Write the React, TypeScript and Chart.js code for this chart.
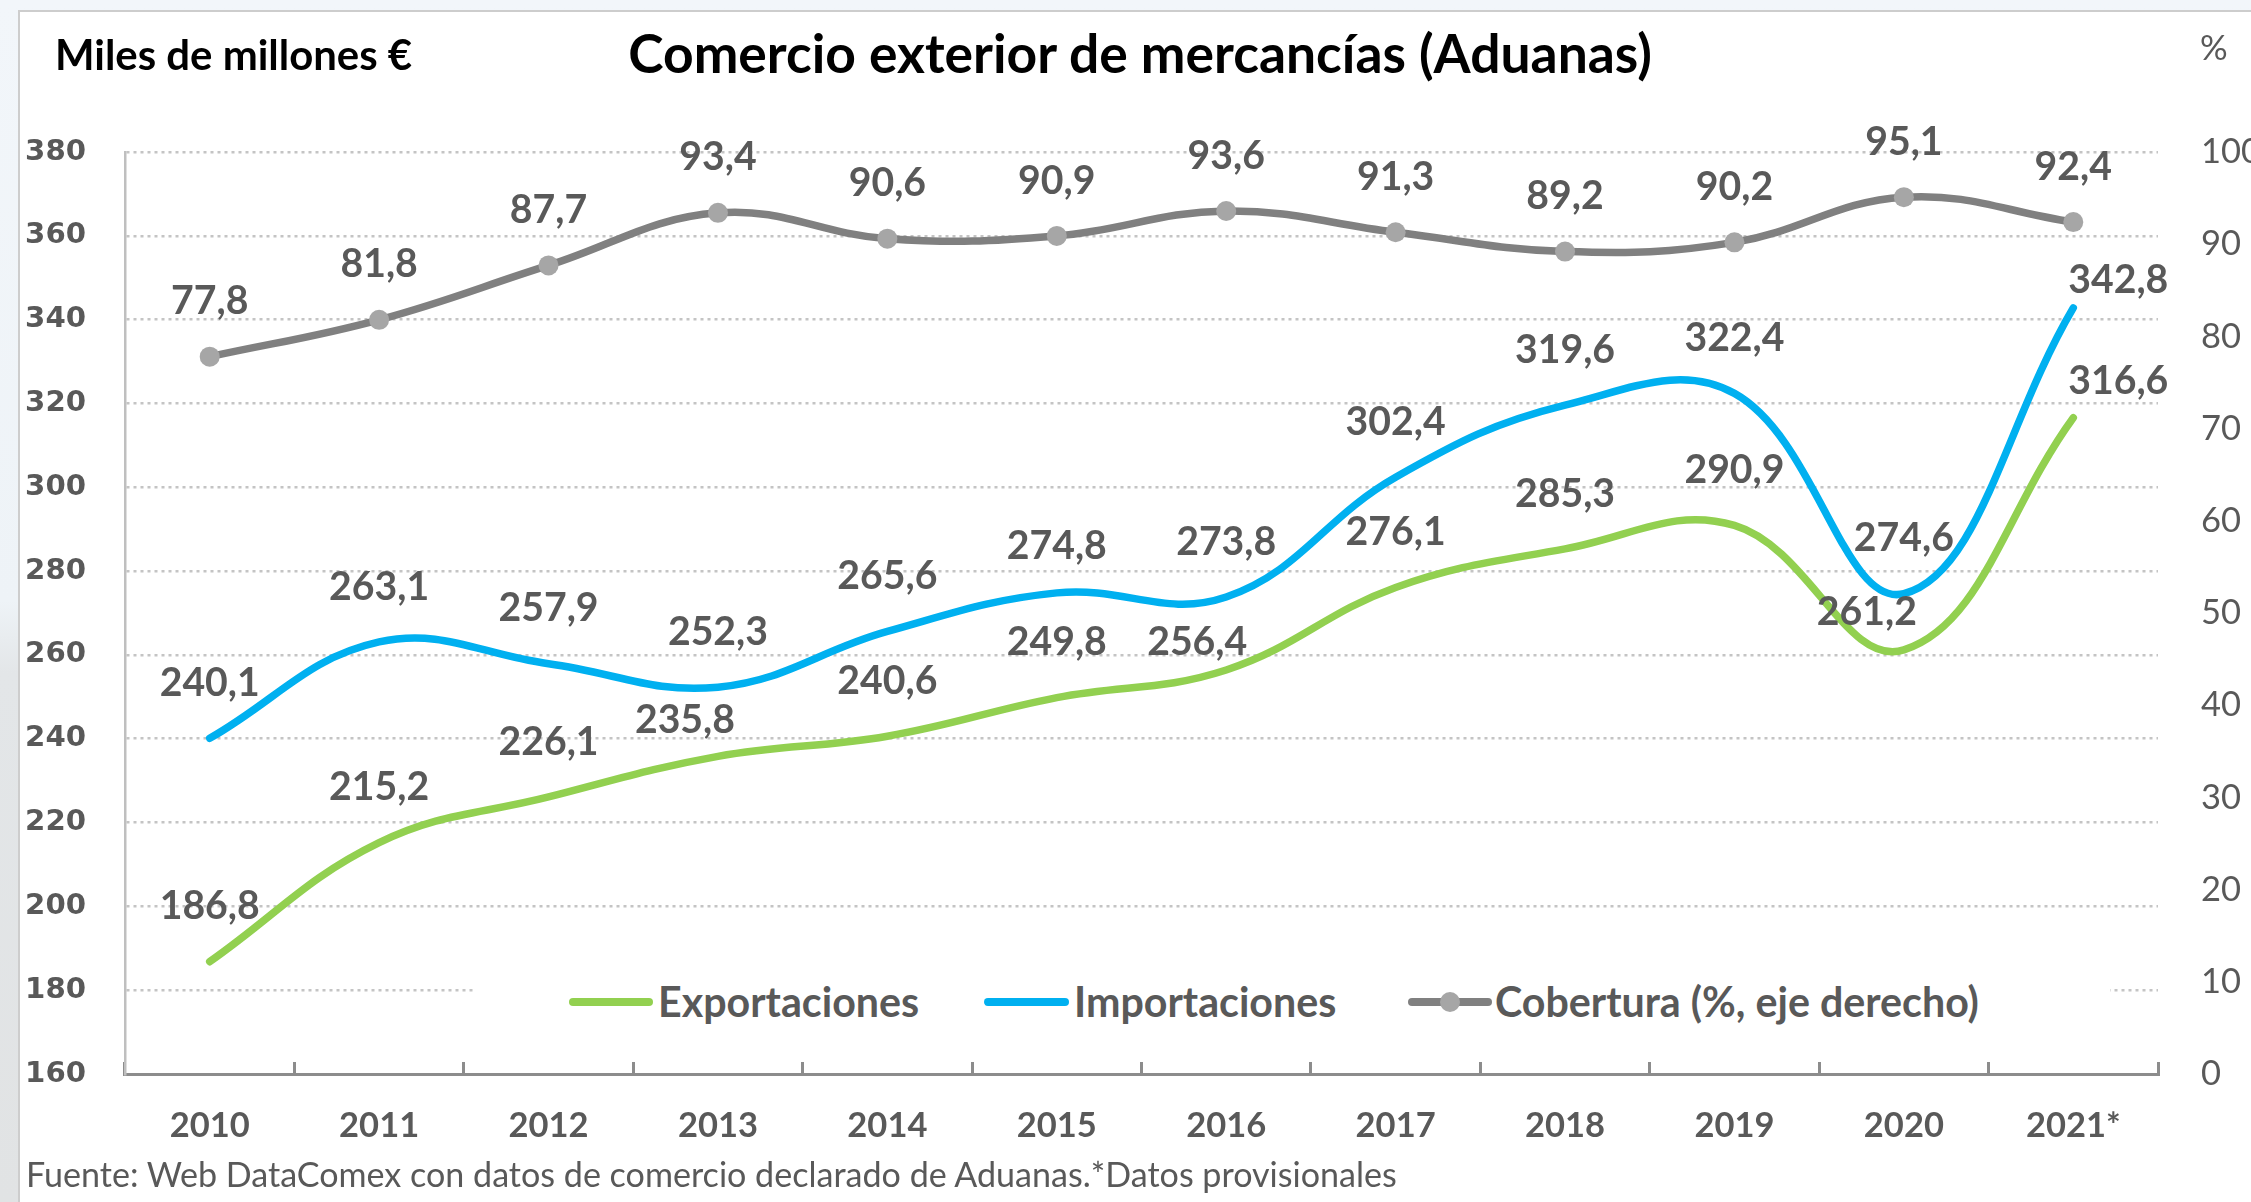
import React, { useEffect, useRef } from 'react';
import { Chart, registerables } from 'chart.js';

Chart.register(...registerables);

// ---------- DATA ----------
const categories = ['2010', '2011', '2012', '2013', '2014', '2015', '2016', '2017', '2018', '2019', '2020', '2021*'];
const exportaciones = [186.8, 215.2, 226.1, 235.8, 240.6, 249.8, 256.4, 276.1, 285.3, 290.9, 261.2, 316.6];
const importaciones = [240.1, 263.1, 257.9, 252.3, 265.6, 274.8, 273.8, 302.4, 319.6, 322.4, 274.6, 342.8];
const cobertura = [77.8, 81.8, 87.7, 93.4, 90.6, 90.9, 93.6, 91.3, 89.2, 90.2, 95.1, 92.4];
const leftAxis = { min: 160, max: 380, step: 20 };
const rightAxis = { min: 0, max: 100, step: 10 };

const TITLE = 'Comercio exterior de mercancías (Aduanas)';
const UNIT_LEFT = 'Miles de millones €';
const UNIT_RIGHT = '%';
const SOURCE = 'Fuente: Web DataComex con datos de comercio declarado de Aduanas.*Datos provisionales';
const SERIES_NAMES = ['Exportaciones', 'Importaciones', 'Cobertura (%, eje derecho)'];

// ---------- STYLE ----------
const LATO = "Lato, 'Open Sans', sans-serif";
const DEJAVU = "'DejaVu Sans', Verdana, sans-serif";
const GREY_TEXT = '#595959';
const GREEN = '#92d050';
const BLUE = '#00b0f0';
const GREY_LINE = '#808080';
const GREY_DOT = '#a6a6a6';

const mctx = document.createElement('canvas').getContext('2d') as CanvasRenderingContext2D;
function fitSize(text: string, weight: string | number, family: string, target: number): number {
  mctx.font = `${weight} 100px ${family}`;
  const w = mctx.measureText(text).width || 100;
  return Math.round((100 * target / w) * 10) / 10;
}

const SZ_TITLE = fitSize(TITLE, 700, LATO, 1024);
const SZ_UNIT = fitSize(UNIT_LEFT, 700, LATO, 357);
const SZ_XTICK = fitSize('2010', 700, LATO, 80);
const SZ_YTICK = fitSize('380', 700, DEJAVU, 61);
const SZ_Y1TICK = fitSize('80', 400, LATO, 40);
const SZ_LABEL = fitSize('273,8', 700, LATO, 100);
const SZ_LEGEND = fitSize(SERIES_NAMES[0], 700, LATO, 261);
const SZ_SOURCE = fitSize(SOURCE, 400, LATO, 1374);

// label placement relative to the point (dx, dy); default is centred above
const LABEL_DY = -55;
const labelShifts: Array<Record<number, [number, number]>> = [
  { 3: [-33, -36], 6: [-29, -28], 10: [-37, -38], 11: [45, -36] },
  { 5: [0, -47], 11: [45, -28] },
  {},
];

const fmt = (v: number) => v.toFixed(1).replace('.', ',');

const dataLabelPlugin = {
  id: 'dataLabels',
  afterDatasetsDraw(chart: any) {
    const ctx = chart.ctx as CanvasRenderingContext2D;
    ctx.save();
    ctx.font = `700 ${SZ_LABEL}px ${LATO}`;
    ctx.fillStyle = GREY_TEXT;
    ctx.textAlign = 'center';
    ctx.textBaseline = 'middle';
    chart.data.datasets.forEach((ds: any, di: number) => {
      const meta = chart.getDatasetMeta(di);
      const shifts = labelShifts[di] || {};
      meta.data.forEach((el: any, i: number) => {
        const v = ds.data[i] as number;
        const [dx, dy] = shifts[i] ?? [0, LABEL_DY];
        ctx.fillText(fmt(v), el.x + dx, el.y + dy);
      });
    });
    ctx.restore();
  },
};

export default function App() {
  const ref = useRef<HTMLCanvasElement | null>(null);

  useEffect(() => {
    if (!ref.current) return;
    const chart = new Chart(ref.current, {
      type: 'line',
      data: {
        labels: categories,
        datasets: [
          {
            label: SERIES_NAMES[0],
            data: exportaciones,
            yAxisID: 'y',
            borderColor: GREEN,
            backgroundColor: GREEN,
            borderWidth: 7.5,
            borderCapStyle: 'round',
            pointRadius: 0,
            tension: 0.4,
          },
          {
            label: SERIES_NAMES[1],
            data: importaciones,
            yAxisID: 'y',
            borderColor: BLUE,
            backgroundColor: BLUE,
            borderWidth: 7.5,
            borderCapStyle: 'round',
            pointRadius: 0,
            tension: 0.4,
          },
          {
            label: SERIES_NAMES[2],
            data: cobertura,
            yAxisID: 'y1',
            borderColor: GREY_LINE,
            backgroundColor: GREY_DOT,
            borderWidth: 7.5,
            borderCapStyle: 'round',
            pointRadius: 10,
            pointBorderWidth: 0,
            pointBackgroundColor: GREY_DOT,
            tension: 0.4,
          },
        ],
      },
      options: {
        responsive: false,
        devicePixelRatio: 1,
        animation: false,
        layout: { padding: { top: 152, left: 0, right: 0, bottom: 0 } },
        plugins: {
          legend: { display: false },
          tooltip: { enabled: false },
          title: { display: false },
        },
        scales: {
          x: {
            type: 'category',
            position: 'bottom',
            offset: true,
            grid: {
              display: true,
              offset: true,
              drawOnChartArea: false,
              drawTicks: true,
              tickLength: -12,
              tickWidth: 3,
              tickColor: '#8c8c8c',
            },
            border: { display: true, color: '#8c8c8c', width: 3 },
            ticks: {
              color: GREY_TEXT,
              font: { family: LATO, weight: 'bold', size: SZ_XTICK, lineHeight: 1.2 },
              padding: 1126 - 1074 + 12 - SZ_XTICK * 0.6,
              maxRotation: 0,
              autoSkip: false,
            },
            afterFit: (s: any) => { s.height = 128; },
          },
          y: {
            position: 'left',
            min: leftAxis.min,
            max: leftAxis.max,
            ticks: {
              stepSize: leftAxis.step,
              color: GREY_TEXT,
              font: { family: DEJAVU, weight: 'bold', size: SZ_YTICK },
              padding: 39,
            },
            grid: { color: '#c4c4c4', lineWidth: 2.5, drawTicks: false },
            border: { display: true, color: '#bfbfbf', width: 2.5, dash: [3, 4] },
            afterFit: (s: any) => { s.width = 125; },
          },
          y1: {
            position: 'right',
            min: rightAxis.min,
            max: rightAxis.max,
            ticks: {
              stepSize: rightAxis.step,
              color: GREY_TEXT,
              font: { family: LATO, weight: 'normal', size: SZ_Y1TICK },
              padding: 43,
            },
            grid: { display: false, drawTicks: false },
            border: { display: false },
            afterFit: (s: any) => { s.width = 93; },
          },
        },
      } as any,
      plugins: [dataLabelPlugin],
    });
    return () => chart.destroy();
  }, []);

  const textBase: React.CSSProperties = {
    position: 'absolute',
    whiteSpace: 'nowrap',
    lineHeight: 1,
    transform: 'translateY(-50%)',
  };

  const legendItems = [
    { name: SERIES_NAMES[0], color: GREEN, sx: 569, sw: 84, tx: 658, dot: false },
    { name: SERIES_NAMES[1], color: BLUE, sx: 984, sw: 85, tx: 1074, dot: false },
    { name: SERIES_NAMES[2], color: GREY_LINE, sx: 1408, sw: 84, tx: 1495, dot: true },
  ];
  const LEG_Y = 1002;

  return (
    <div
      style={{
        position: 'fixed',
        left: 0,
        top: 0,
        width: 2251,
        height: 1202,
        overflow: 'hidden',
        background: 'linear-gradient(180deg, #f2f6fa 0%, #eef3f7 50%, #e3e6e8 56%, #e1e3e4 100%)',
      }}
    >
      <div
        style={{
          position: 'absolute',
          left: 18,
          top: 10,
          width: 2251,
          height: 1202,
          background: '#ffffff',
          borderLeft: '2px solid #cdcdcd',
          borderTop: '2px solid #cdcdcd',
        }}
      />
      <canvas ref={ref} width={2251} height={1202} style={{ position: 'absolute', left: 0, top: 0, display: 'block' }} />
      <div style={{ ...textBase, left: 55, top: 55, fontFamily: LATO, fontWeight: 700, fontSize: SZ_UNIT, color: '#000' }}>
        {UNIT_LEFT}
      </div>
      <div
        style={{
          ...textBase,
          left: 1140,
          top: 53,
          transform: 'translate(-50%, -50%)',
          fontFamily: LATO,
          fontWeight: 700,
          fontSize: SZ_TITLE,
          color: '#000',
        }}
      >
        {TITLE}
      </div>
      <div style={{ ...textBase, left: 2200, top: 47, fontFamily: LATO, fontWeight: 400, fontSize: SZ_Y1TICK, color: GREY_TEXT }}>
        {UNIT_RIGHT}
      </div>
      <div style={{ ...textBase, left: 26, top: 1174, fontFamily: LATO, fontWeight: 400, fontSize: SZ_SOURCE, color: GREY_TEXT }}>
        {SOURCE}
      </div>
      <div style={{ position: 'absolute', left: 474, top: 974, width: 1636, height: 58, background: '#ffffff' }} />
      {legendItems.map((it) => (
        <React.Fragment key={it.name}>
          <div
            style={{
              position: 'absolute',
              left: it.sx,
              top: LEG_Y - 4,
              width: it.sw,
              height: 8,
              borderRadius: 4,
              background: it.color,
            }}
          />
          {it.dot && (
            <div
              style={{
                position: 'absolute',
                left: it.sx + it.sw / 2 - 10,
                top: LEG_Y - 10,
                width: 20,
                height: 20,
                borderRadius: 10,
                background: GREY_DOT,
              }}
            />
          )}
          <div
            style={{
              ...textBase,
              left: it.tx,
              top: LEG_Y,
              fontFamily: LATO,
              fontWeight: 700,
              fontSize: SZ_LEGEND,
              color: GREY_TEXT,
            }}
          >
            {it.name}
          </div>
        </React.Fragment>
      ))}
    </div>
  );
}
